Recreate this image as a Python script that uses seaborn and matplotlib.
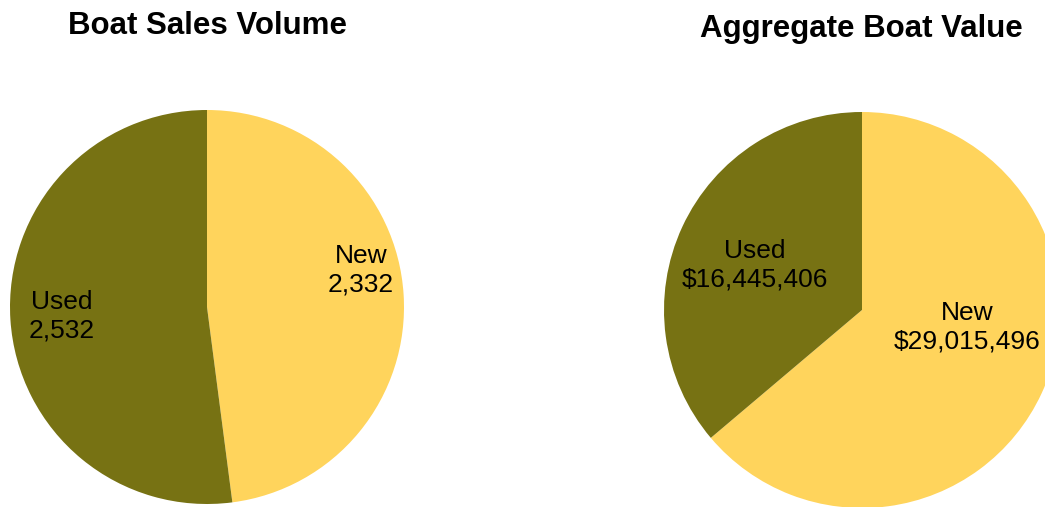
import matplotlib
matplotlib.use("Agg")
import matplotlib.pyplot as plt
import seaborn as sns

# data
categories = ["New", "Used"]
volume = [2332, 2532]
value = [29015496, 16445406]
volume_labels = ["New\n2,332", "Used\n2,532"]
value_labels = ["New\n$29,015,496", "Used\n$16,445,406"]

OLIVE = "#777213"
YELLOW = "#FFD45C"

sns.set_theme(style="white")
plt.rcParams["font.family"] = ["Liberation Sans", "DejaVu Sans"]

W, H = 1045, 507
fig = plt.figure(figsize=(W / 100, H / 100), dpi=100)
ax = fig.add_axes([0, 0, 1, 1])

colors = [YELLOW, OLIVE]

# left pie: sales volume
ax.pie(volume, colors=colors, startangle=90, counterclock=False,
       center=(207, H - 307), radius=197, frame=True,
       wedgeprops={"linewidth": 0})
# right pie: aggregate value
ax.pie(value, colors=colors, startangle=90, counterclock=False,
       center=(862, H - 310), radius=198, frame=True,
       wedgeprops={"linewidth": 0})
ax.set_xlim(0, W)
ax.set_ylim(0, H)
ax.set_aspect("equal")
ax.axis("off")

lab = dict(ha="center", va="center", fontsize=19, color="black", linespacing=1.25)
ax.text(361, H - 270, volume_labels[0], **lab)
ax.text(62, H - 316, volume_labels[1], **lab)
ax.text(967, H - 327, value_labels[0], **lab)
ax.text(755, H - 265, value_labels[1], **lab)

ttl = dict(ha="center", va="center", fontsize=22.5, fontweight="bold", color="black")
ax.text(207, H - 26, "Boat Sales Volume", **ttl)
ax.text(861, H - 29, "Aggregate Boat Value", **ttl)

fig.savefig("out.png", dpi=100, facecolor="white")
